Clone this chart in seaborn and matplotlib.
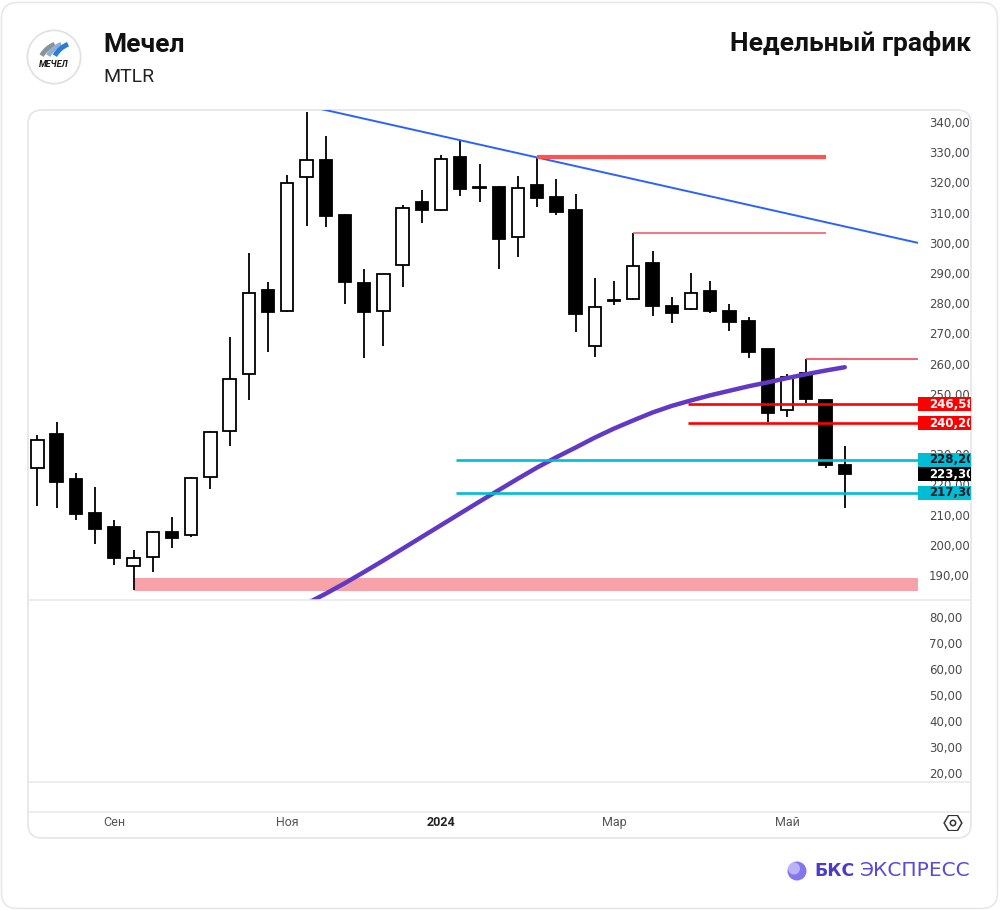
import numpy as np
import pandas as pd
import seaborn as sns
import matplotlib.pyplot as plt
from matplotlib.patches import Rectangle, FancyBboxPatch, Circle, Arc, RegularPolygon
from matplotlib.transforms import blended_transform_factory, Bbox, TransformedBbox
from matplotlib.lines import Line2D

# weekly candles MTLR
opens = [225.5, 236.6, 221.7, 210.4, 205.9, 193.0, 195.8, 204.2, 203.1, 222.5,
         237.7, 256.6, 284.4, 277.4, 321.9, 327.4, 309.1, 286.6, 277.5, 292.6,
         313.6, 310.8, 328.5, 318.3, 318.6, 302.1, 319.0, 315.1, 310.8, 265.9,
         281.0, 281.4, 293.3, 279.2, 278.0, 284.0, 277.4, 274.1, 264.7, 244.5,
         256.8, 247.8, 226.3]
highs = [236.4, 240.6, 223.7, 219.0, 208.1, 198.4, 204.4, 209.1, 222.5, 237.7,
         268.7, 296.7, 287.1, 322.5, 343.5, 335.5, 309.5, 291.3, 289.7, 312.4,
         317.5, 329.1, 334.0, 326.0, 318.8, 322.0, 328.5, 321.0, 316.2, 288.4,
         287.5, 303.4, 297.3, 282.2, 289.9, 287.5, 279.7, 275.3, 265.0, 256.6,
         261.6, 248.0, 232.7]
lows = [212.8, 212.1, 208.1, 200.3, 193.4, 185.0, 191.1, 198.8, 202.5, 218.4,
        232.7, 248.0, 263.7, 277.2, 305.6, 305.1, 279.7, 261.7, 265.9, 285.5,
        306.5, 310.5, 315.5, 313.5, 291.4, 295.4, 311.8, 309.2, 270.4, 262.3,
        279.4, 281.2, 275.9, 273.3, 277.8, 276.6, 270.8, 262.0, 240.8, 242.4,
        246.9, 225.5, 212.3]
closes = [234.7, 220.7, 210.3, 205.2, 195.7, 195.5, 204.1, 202.4, 222.2, 237.5,
          254.8, 283.5, 277.2, 319.9, 327.4, 309.0, 287.1, 277.1, 289.6, 311.4,
          310.8, 327.9, 317.8, 318.1, 301.3, 318.2, 314.7, 310.1, 276.3, 278.6,
          280.7, 292.4, 279.1, 276.6, 283.3, 277.5, 273.8, 263.9, 243.6, 255.7,
          248.2, 226.4, 223.3]

# moving average (index of candle, value)
ma_idx = list(range(14, 43))
ma_vals = [180.5, 183.8, 187.3, 191.0, 194.8, 198.7, 202.6, 206.5, 210.4, 214.3,
           218.1, 221.9, 225.6, 229.0, 232.2, 235.5, 238.5, 241.2, 243.8, 246.0,
           247.8, 249.5, 251.0, 252.5, 253.8, 255.2, 256.5, 257.7, 258.8]

# resistance trend line
trend_x = [14.0, 45.8]
trend_y = [345.4, 300.0]

# horizontal levels: value, start, end, colour, width
levels = [
    (328.5, 26.0, 41.0, '#FF5252', 3.0),
    (303.4, 31.0, 41.0, '#F5505E', 1.1),
    (261.6, 40.0, 45.81, '#F23645', 1.1),
    (246.58, 33.85, 45.81, '#FF0000', 1.9),
    (240.20, 33.85, 45.81, '#FF0000', 1.9),
    (228.20, 21.8, 45.81, '#00BCD4', 1.9),
    (217.30, 21.8, 45.81, '#00BCD4', 1.9),
]
zone_lo, zone_hi, zone_start = 184.8, 188.9, 5.0

price_tags = [(246.58, '246,58', '#FF0000', 'white'),
              (240.20, '240,20', '#FF0000', 'white'),
              (228.20, '228,20', '#00BCD4', '#131722'),
              (223.30, '223,30', '#000000', 'white'),
              (217.30, '217,30', '#00BCD4', '#131722')]

price_ticks = list(range(190, 341, 10))
lower_ticks = list(range(20, 81, 10))
month_pos = [4, 13, 21, 30, 39]
month_lbl = ['Сен', 'Ноя', '2024', 'Мар', 'Май']

sns.set_style('white')
plt.rcParams['font.family'] = ['Roboto', 'Noto Sans', 'DejaVu Sans']

W, H = 1000, 910
fig = plt.figure(figsize=(10, 9.1), dpi=100)


def px_axes(x0, y0, x1, y1):
    return fig.add_axes([x0 / W, 1 - y1 / H, (x1 - x0) / W, (y1 - y0) / H])


# outer frame and chart card
fig.add_artist(FancyBboxPatch((1.5 / W, 1.5 / H), 996 / W, 906 / H,
                              boxstyle='round,pad=0,rounding_size=0.016', mutation_aspect=W / H,
                              transform=fig.transFigure, fc='white', ec='#E8E8E8', lw=1.2, zorder=-2))
fig.add_artist(FancyBboxPatch((28 / W, 1 - 838 / H), 943 / W, 728 / H,
                              boxstyle='round,pad=0,rounding_size=0.014', mutation_aspect=W / H,
                              transform=fig.transFigure, fc='white', ec='#E3E5EA', lw=1.2, zorder=-1))
for yy in [600, 782, 812]:
    fig.add_artist(Line2D([28 / W, 971 / W], [1 - yy / H] * 2, color='#E6E8EE', lw=1.1,
                          transform=fig.transFigure))

card_clip = TransformedBbox(Bbox([[0, 0], [970 / W, 1]]), fig.transFigure)
xlim = (-0.49, 45.81)

# ---- main price panel
ax = px_axes(28, 110, 918, 600)
ax.set_facecolor('none')
n = len(opens)
idx = np.arange(n)
o = np.array(opens)
c = np.array(closes)
up = c >= o

ax.fill_between([zone_start, xlim[1]], zone_lo, zone_hi, color='#F7A1A8', lw=0, zorder=1)
ax.vlines(idx, lows, highs, color='black', lw=1.3, zorder=3)
ax.bar(idx, np.maximum(np.abs(c - o), 0.25), bottom=np.minimum(o, c), width=0.64,
       color=np.where(up, 'white', 'black'), edgecolor='black', linewidth=1.3, zorder=4)

sns.lineplot(x=ma_idx, y=ma_vals, ax=ax, color='#6239C4', linewidth=3.2, zorder=5, legend=False)
sns.lineplot(x=trend_x, y=trend_y, ax=ax, color='#2962FF', linewidth=1.4, zorder=5, legend=False)
for val, x0, x1, col, lw in levels:
    ax.hlines(val, x0, x1, color=col, lw=lw, zorder=6)

ax.set_xlim(*xlim)
ax.set_ylim(181.7, 344.0)
ax.set_xticks([])
ax.yaxis.tick_right()
ax.set_yticks(price_ticks, [f'{v},00' for v in price_ticks])
ax.tick_params(axis='y', length=0, pad=8, labelsize=8.5, labelcolor='#4A4A4A')
for s in ax.spines.values():
    s.set_visible(False)
for t in ax.get_yticklabels():
    t.set_family('DejaVu Sans')
    t.set_clip_box(card_clip)
    t.set_clip_on(True)

tr = blended_transform_factory(ax.transAxes, ax.transData)
box_h = 14 / 3.02
for val, txt, bg, fg in price_tags:
    ax.add_patch(Rectangle((1.0, val - box_h / 2), 943 / 890 - 1.0, box_h, transform=tr,
                           fc=bg, ec='none', clip_on=False, zorder=8))
    t = ax.text(1.0 + 11 / 890, val, txt, transform=tr, ha='left', va='center', fontsize=8.5,
                color=fg, fontweight='bold', family='DejaVu Sans', zorder=9)
    t.set_clip_box(card_clip)
    t.set_clip_on(True)

# ---- lower (indicator) panel
ax2 = px_axes(28, 600, 918, 782)
ax2.set_facecolor('none')
ax2.set_xlim(*xlim)
ax2.set_ylim(16.5, 86.5)
ax2.set_xticks([])
ax2.yaxis.tick_right()
ax2.set_yticks(lower_ticks, [f'{v},00' for v in lower_ticks])
ax2.tick_params(axis='y', length=0, pad=8, labelsize=8.5, labelcolor='#4A4A4A')
for t in ax2.get_yticklabels():
    t.set_family('DejaVu Sans')
for s in ax2.spines.values():
    s.set_visible(False)

# ---- time axis
ax3 = px_axes(28, 812, 918, 838)
ax3.set_facecolor('none')
ax3.set_xlim(*xlim)
ax3.set_ylim(0, 1)
ax3.set_xticks([])
ax3.set_yticks([])
for s in ax3.spines.values():
    s.set_visible(False)
tr3 = blended_transform_factory(ax3.transData, ax3.transAxes)
for p, lbl in zip(month_pos, month_lbl):
    bold = lbl == '2024'
    ax3.text(p, 0.58, lbl, transform=tr3, ha='center', va='center', fontsize=9,
             color='#222222' if bold else '#555555', fontweight='bold' if bold else 'normal')

eye = px_axes(943, 815, 963, 831)
eye.set_xlim(-1.3, 1.3)
eye.set_ylim(-1.0, 1.0)
eye.set_aspect('equal')
eye.axis('off')
eye.add_patch(RegularPolygon((0, 0), 6, radius=1.15, orientation=np.pi / 6, fc='none', ec='#333', lw=1.1))
eye.add_patch(Circle((0, 0), 0.35, fc='none', ec='#333', lw=1.1))

# ---- header
logo = px_axes(26, 29, 82, 85)
logo.set_xlim(-1.05, 1.05)
logo.set_ylim(-1.05, 1.05)
logo.set_aspect('equal')
logo.axis('off')
logo.add_patch(Circle((0, 0), 1.0, fc='white', ec='#E2E2E2', lw=1.3))
for cx, col in [(0.40, '#8C9198'), (0.65, '#8FB0D6'), (0.90, '#2B7CD3')]:
    logo.add_patch(Arc((cx, -0.45), 2.0, 2.0, theta1=112, theta2=150, color=col, lw=3.5))
logo.text(0.0, -0.28, 'МЕЧЕЛ', ha='center', va='center', fontsize=6.5, fontweight='bold',
          style='italic', color='#1A1A1A')

fig.text(103 / W, 1 - 45 / H, 'Мечел', fontsize=19, fontweight='bold', va='center', ha='left',
         color='#111111')
fig.text(103 / W, 1 - 77 / H, 'MTLR', fontsize=14, va='center', ha='left', color='#222222')
fig.text(971 / W, 1 - 44 / H, 'Недельный график', fontsize=19, fontweight='bold', va='center',
         ha='right', color='#111111')

# ---- footer logo
bk = px_axes(787, 861, 807, 881)
bk.set_xlim(-1, 1)
bk.set_ylim(-1, 1)
bk.set_aspect('equal')
bk.axis('off')
bk.add_patch(Circle((0, 0), 0.95, fc='#8477EC', ec='none'))
bk.add_patch(Circle((-0.3, 0.25), 0.6, fc='#C8C1FF', ec='none', alpha=0.8))
fig.text(814 / W, 1 - 871 / H, 'БКС', fontsize=12.5, fontweight='bold', va='center', ha='left',
         color='#4B3BC8', family='DejaVu Sans')
fig.text(860 / W, 1 - 871 / H, 'ЭКСПРЕСС', fontsize=14.5, va='center', ha='left',
         color='#5A4BD6', family='DejaVu Sans')

fig.savefig('out.png', dpi=100, facecolor='white')
